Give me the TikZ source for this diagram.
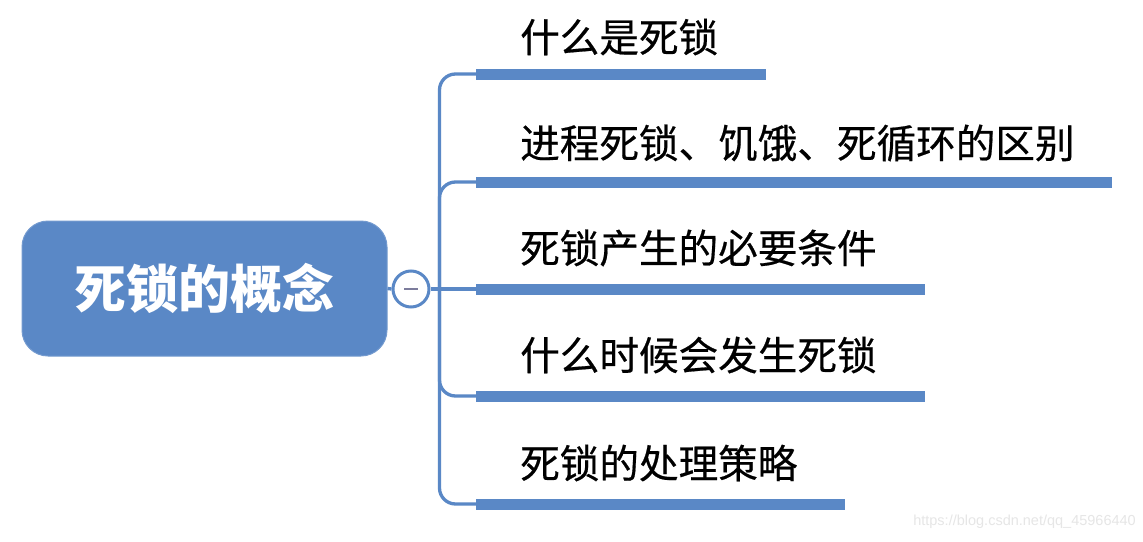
\documentclass[tikz,border=0pt]{standalone}
\usepackage{fontspec}
\newfontfamily\cjk{Noto Sans CJK SC}
\newfontfamily\cjkm[FakeBold=0.5]{Noto Sans CJK SC}
\setsansfont{Liberation Sans}
\definecolor{mblue}{HTML}{5A88C6}
\definecolor{minusc}{HTML}{7C7C9C}
\definecolor{wmark}{HTML}{E6E6E6}
\begin{document}
\begin{tikzpicture}[x=1pt,y=-1pt,
  rootbox/.style={draw=mblue!85!white, line width=1pt, fill=mblue, rounded corners=26pt, minimum width=365pt, minimum height=135pt, inner sep=0pt, font=\cjk\bfseries\fontsize{52}{52}\selectfont, text=white},
  toggle/.style={circle, draw=mblue, line width=3pt, fill=white, minimum size=36pt, inner sep=0pt},
  bar/.style={rectangle, fill=mblue, minimum height=11pt, inner sep=0pt, anchor=west},
  topic/.style={anchor=west, inner sep=0pt, font=\cjkm\fontsize{39.6}{39.6}\selectfont, text=black},
  conn/.style={draw=mblue, line width=3.3pt},
]
\useasboundingbox (0,0) rectangle (1143,541);
\fill[white] (0,0) rectangle (1143,541);

\node[rootbox] (root) at (204.5,288.5) {死锁的概念};
\node[toggle] (tog) at (411,289) {};
\draw[minusc, line width=2.8pt] ([xshift=-7pt]tog.center) -- ([xshift=7pt]tog.center);

\node[bar, minimum width=290pt] (b1) at (476,74) {};
\node[bar, minimum width=636pt] (b2) at (476,182) {};
\node[bar, minimum width=449pt] (b3) at (476,289) {};
\node[bar, minimum width=449pt] (b4) at (476,396) {};
\node[bar, minimum width=369pt] (b5) at (476,504) {};

\node[topic] (t1) at (520,37) {什么是死锁};
\node[topic] (t2) at (520,143) {进程死锁、饥饿、死循环的区别};
\node[topic] (t3) at (520,248) {死锁产生的必要条件};
\node[topic] (t4) at (520,355) {什么时候会发生死锁};
\node[topic] (t5) at (520,463) {死锁的处理策略};

\coordinate (spine) at (439.5,289);
\draw[conn] (root.east) -- (tog.west);
\draw[conn] (tog.east) -- (b3.west);
\draw[conn, rounded corners=16pt] (spine) |- (b1.west);
\draw[conn, rounded corners=16pt] (spine) |- (b2.west);
\draw[conn, rounded corners=16pt] (spine) |- (b4.west);
\draw[conn, rounded corners=16pt] (spine) |- (b5.west);

\node[anchor=east, inner sep=0pt, text=wmark, font=\sffamily\fontsize{14.5}{14.5}\selectfont] (wm) at (1136,522) {https://blog.csdn.net/qq\_45966440};
\end{tikzpicture}
\end{document}
